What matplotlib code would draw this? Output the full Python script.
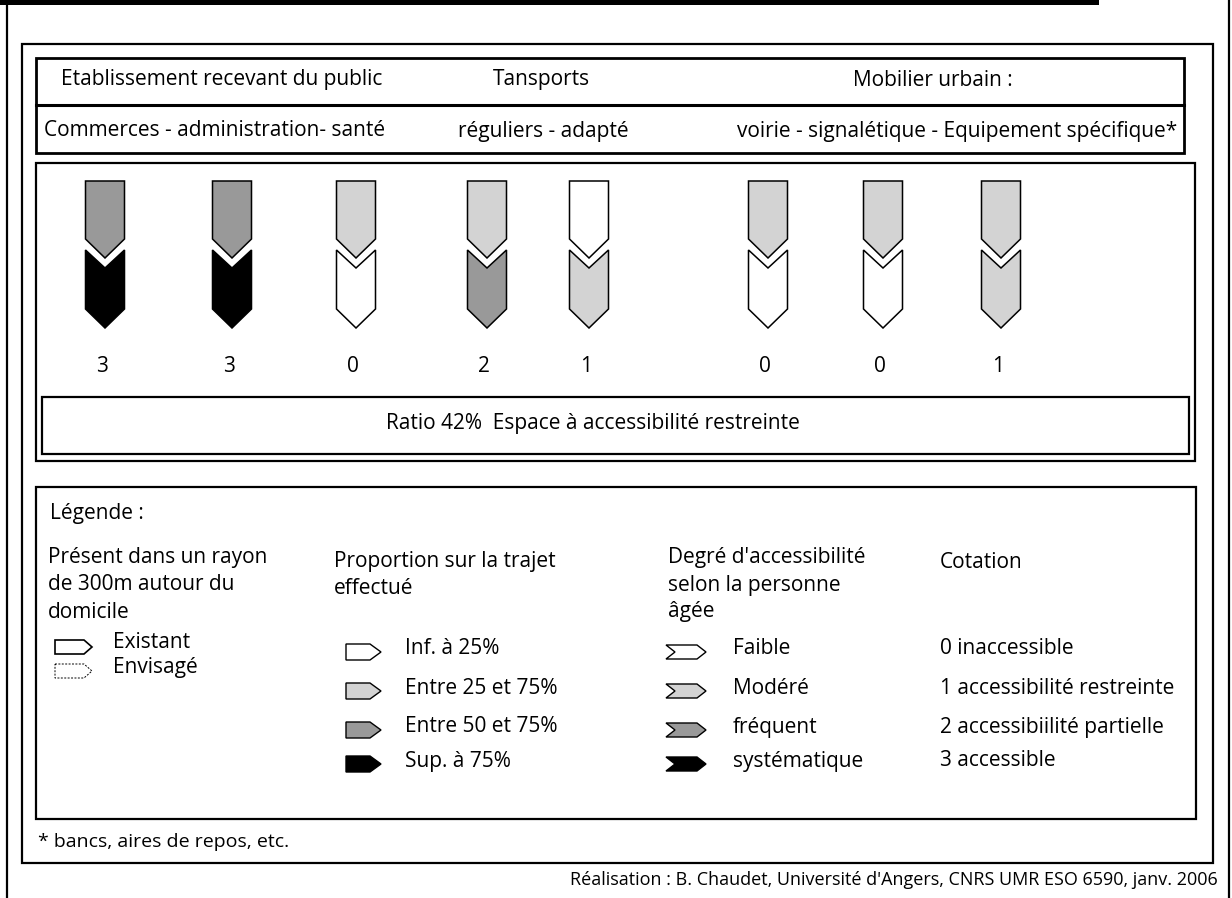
import matplotlib
matplotlib.use("Agg")
import matplotlib.pyplot as plt
from matplotlib.patches import Rectangle, Polygon

plt.rcParams['font.family'] = ['Open Sans', 'DejaVu Sans']

# data
group_titles = ["Etablissement recevant du public", "Tansports", "Mobilier urbain :"]
group_details = ["Commerces - administration- santé", "réguliers - adapté",
                 "voirie - signalétique - Equipement spécifique*"]
top_levels = [2, 2, 1, 1, 0, 1, 1, 1]      # proportion sur le trajet
bottom_levels = [3, 3, 0, 2, 1, 0, 0, 1]   # degré d'accessibilité
scores = [3, 3, 0, 2, 1, 0, 0, 1]
ratio_text = "Ratio 42%  Espace à accessibilité restreinte"

presence_labels = ["Existant", "Envisagé"]
proportion_labels = ["Inf. à 25%", "Entre 25 et 75%", "Entre 50 et 75%", "Sup. à 75%"]
degree_labels = ["Faible", "Modéré", "fréquent", "systématique"]
cotation_labels = ["0 inaccessible", "1 accessibilité restreinte",
                   "2 accessibiilité partielle", "3 accessible"]

fills = ["white", "#d3d3d3", "#999999", "black"]
fs = 15

fig = plt.figure(figsize=(12.32, 8.98), dpi=100)
ax = fig.add_axes([0, 0, 1, 1])
ax.set_xlim(0, 1232)
ax.set_ylim(898, 0)
ax.axis("off")


def box(x0, y0, x1, y1, lw=1.6):
    ax.add_patch(Rectangle((x0, y0), x1 - x0, y1 - y0, fill=False, ec="black", lw=lw))


# outer frame
ax.add_patch(Rectangle((0, 0), 1099, 5, fc="black", ec="none"))
ax.plot([7, 7], [0, 898], color="black", lw=1.6)
ax.plot([1229, 1229], [0, 898], color="black", lw=1.6)
box(22, 44, 1213, 863)

# header
box(36, 58, 1184, 153, lw=2)
ax.plot([36, 1184], [105, 105], color="black", lw=2.2)
title_x = [222, 541, 933]
detail_x = [215, 543, 957]
for t, x in zip(group_titles, title_x):
    ax.text(x, 80, t, ha="center", va="center", fontsize=fs)
for t, x in zip(group_details, detail_x):
    ax.text(x, 131, t, ha="center", va="center", fontsize=fs)

# arrows
box(36, 163, 1195, 461)
arrow_x = [105, 232, 356, 487, 589, 768, 883, 1001]
hw = 19.5
for x, tl, bl, s in zip(arrow_x, top_levels, bottom_levels, scores):
    top = [(x - hw, 181), (x + hw, 181), (x + hw, 239), (x, 258), (x - hw, 239)]
    bot = [(x - hw, 250), (x, 268), (x + hw, 250), (x + hw, 309), (x, 328), (x - hw, 309)]
    ax.add_patch(Polygon(top, closed=True, fc=fills[tl], ec="black", lw=1.1))
    ax.add_patch(Polygon(bot, closed=True, fc=fills[bl], ec="black", lw=1.1))
    ax.text(x - 3, 367, str(s), ha="center", va="center", fontsize=fs)

box(42, 397, 1189, 454)
ax.text(593, 423, ratio_text, ha="center", va="center", fontsize=fs)

# legend
box(36, 487, 1196, 819)
ax.text(50, 513, "Légende :", ha="left", va="center", fontsize=fs)
for i, line in enumerate(["Présent dans un rayon", "de 300m autour du", "domicile"]):
    ax.text(48, 558 + 27 * i, line, ha="left", va="center", fontsize=fs)
for i, line in enumerate(["Proportion sur la trajet", "effectué"]):
    ax.text(334, 562 + 27 * i, line, ha="left", va="center", fontsize=fs)
for i, line in enumerate(["Degré d'accessibilité", "selon la personne", "âgée"]):
    ax.text(668, 558 + 27 * i, line, ha="left", va="center", fontsize=fs)
ax.text(940, 562, "Cotation", ha="left", va="center", fontsize=fs)

# presence icons
pres_y = [647, 671]
for i, (lab, y) in enumerate(zip(presence_labels, pres_y)):
    pts = [(55, y - 7), (84, y - 7), (92, y), (84, y + 7), (55, y + 7)]
    if i == 0:
        ax.add_patch(Polygon(pts, closed=True, fc="white", ec="black", lw=1.2))
    else:
        ax.add_patch(Polygon(pts, closed=True, fc="white", ec="black", lw=0.7, ls=(0, (2, 1.5))))
    ax.text(113, y - 4, lab, ha="left", va="center", fontsize=fs)

rows_y = [652, 691, 730, 764]
for lvl, (lab, y) in enumerate(zip(proportion_labels, rows_y)):
    pts = [(346, y - 8), (370, y - 8), (381, y), (370, y + 8), (346, y + 8)]
    ax.add_patch(Polygon(pts, closed=True, fc=fills[lvl], ec="black", lw=1))
    ax.text(405, y - 3, lab, ha="left", va="center", fontsize=fs)

for lvl, (lab, clab, y) in enumerate(zip(degree_labels, cotation_labels, rows_y)):
    pts = [(666, y - 7), (697, y - 7), (706, y), (697, y + 7), (666, y + 7), (675, y)]
    ax.add_patch(Polygon(pts, closed=True, fc=fills[lvl], ec="black", lw=1))
    ax.text(733, y - 3, lab, ha="left", va="center", fontsize=fs)
    ax.text(940, y - 3, clab, ha="left", va="center", fontsize=fs)

ax.text(38, 842, "* bancs, aires de repos, etc.", ha="left", va="center", fontsize=14)
ax.text(1218, 880, "Réalisation : B. Chaudet, Université d'Angers, CNRS UMR ESO 6590, janv. 2006",
        ha="right", va="center", fontsize=13)

fig.savefig("out.png", dpi=100)
